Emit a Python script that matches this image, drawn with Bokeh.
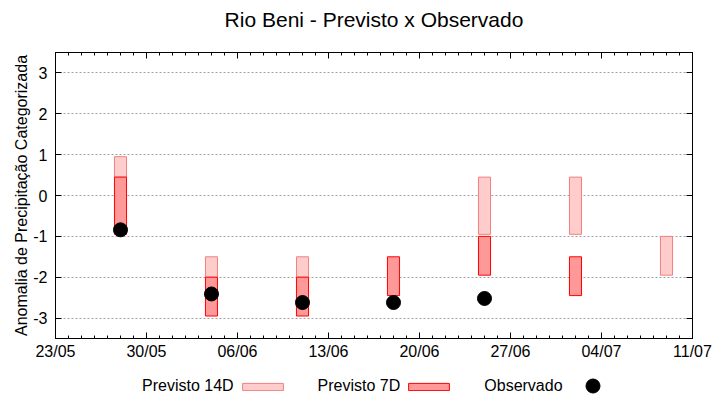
import pandas as pd
from bokeh.plotting import figure
from bokeh.layouts import column
from bokeh.models import (DatetimeAxis, LinearAxis, FixedTicker, DatetimeTickFormatter,
                          Legend, LegendItem, Range1d, CustomJSTickFormatter, Label)
from bokeh.embed import file_html
from bokeh.resources import INLINE

# ---- data ----
dates = ["2024-05-28", "2024-06-04", "2024-06-11", "2024-06-18",
         "2024-06-25", "2024-07-02", "2024-07-09"]
p14_bottom = [0.45, -2.0, -2.0, float("nan"), -0.95, -0.95, -1.95]
p14_top = [0.95, -1.5, -1.5, float("nan"), 0.45, 0.45, -1.0]
p7_bottom = [-0.95, -2.95, -2.95, -2.45, -1.95, -2.45, float("nan")]
p7_top = [0.45, -2.0, -2.0, -1.5, -1.0, -1.5, float("nan")]
obs = [-0.84, -2.41, -2.62, -2.62, -2.52, float("nan"), float("nan")]
x_ticks = ["2024-05-23", "2024-05-30", "2024-06-06", "2024-06-13",
           "2024-06-20", "2024-06-27", "2024-07-04", "2024-07-11"]
y_ticks = [-3, -2, -1, 0, 1, 2, 3]
legend_labels = ["Previsto 14D", "Previsto 7D", "Observado"]
title_text = "Rio Beni - Previsto x Observado"

FONT = "Liberation Sans"
DAY = 86400000.0

x = pd.to_datetime(dates)
tick_ms = [pd.Timestamp(t).value / 1e6 for t in x_ticks]
minor_ms = [tick_ms[0] + i * DAY for i in range(int((tick_ms[-1] - tick_ms[0]) / DAY) + 1)]

# ---- title strip ----
tf = figure(width=720, height=38, output_backend="svg", toolbar_location=None,
            x_range=Range1d(0, 1), y_range=Range1d(0, 1),
            x_axis_location=None, y_axis_location=None,
            min_border=0, outline_line_color=None)
tf.grid.visible = False
tf.add_layout(Label(x=0.5, y=0.5, text=title_text, text_align="center",
                    text_baseline="middle", text_font=FONT, text_font_size="21px",
                    text_color="black"))

# ---- main chart ----
p = figure(frame_width=637, frame_height=286, x_axis_type="datetime",
           output_backend="svg", toolbar_location=None, title=None,
           x_range=Range1d(tick_ms[0], tick_ms[-1]), y_range=Range1d(-3.5, 3.5),
           min_border_left=55, min_border_right=28, min_border_top=14, min_border_bottom=34)
p.background_fill_color = "white"
p.border_fill_color = "white"
p.outline_line_color = "black"
p.outline_line_width = 1

bw = 0.93 * DAY
p.vbar(x=x, width=bw, bottom=p14_bottom, top=p14_top,
       fill_color="#ffcccc", line_color="#f08080", line_width=1)
p.vbar(x=x, width=bw, bottom=p7_bottom, top=p7_top,
       fill_color="#ff9999", line_color="#ff0000", line_width=1)
p.scatter(x=x, y=obs, size=14, fill_color="black", line_color="black")

# grid
p.xgrid.grid_line_color = None
p.ygrid.ticker = FixedTicker(ticks=y_ticks)
p.ygrid.grid_line_color = "#a0a0a0"
p.ygrid.grid_line_dash = "2 2"
p.ygrid.grid_line_width = 1

xt = FixedTicker(ticks=tick_ms, minor_ticks=minor_ms)
fmt = DatetimeTickFormatter(days="%d/%m", months="%d/%m", hours="%d/%m",
                            years="%d/%m", minutes="%d/%m")
blank_fmt = CustomJSTickFormatter(code="return ''")

def style_axis(ax, labels=True):
    ax.major_tick_in = 6
    ax.major_tick_out = 0
    ax.minor_tick_in = 3
    ax.minor_tick_out = 0
    ax.axis_line_color = "black"
    ax.major_tick_line_color = "black"
    ax.minor_tick_line_color = "black"
    ax.major_label_text_font = FONT
    ax.major_label_text_color = "black"
    ax.major_label_text_font_size = "16px"
    if not labels:
        ax.formatter = blank_fmt
        ax.major_label_standoff = 0
        ax.major_label_text_font_size = "2px"

xa = p.xaxis[0]
xa.ticker = xt
xa.formatter = fmt
style_axis(xa)
xa.major_label_standoff = 4

ya = p.yaxis[0]
ya.ticker = FixedTicker(ticks=y_ticks)
ya.formatter = CustomJSTickFormatter(code="return tick.toFixed(0)")
style_axis(ya)
ya.minor_tick_line_color = None
ya.major_label_standoff = 8
ya.axis_label = "Anomalia de Precipitação Categorizada"
ya.axis_label_text_font = FONT
ya.axis_label_text_font_size = "16px"
ya.axis_label_text_font_style = "normal"
ya.axis_label_text_color = "black"
ya.axis_label_standoff = 0

top_ax = DatetimeAxis(ticker=xt)
style_axis(top_ax, labels=False)
p.add_layout(top_ax, "above")
right_ax = LinearAxis(ticker=FixedTicker(ticks=y_ticks))
style_axis(right_ax, labels=False)
right_ax.minor_tick_line_color = None
p.add_layout(right_ax, "right")

# ---- legend strip below the chart (gnuplot style: text followed by sample) ----
lf = figure(width=720, height=28, output_backend="svg", toolbar_location=None,
            x_range=Range1d(0, 1), y_range=Range1d(0, 1),
            x_axis_location=None, y_axis_location=None,
            min_border=0, outline_line_color=None)
lf.grid.visible = False
# hidden proxy renderers (one point each, not shown) used only for legend samples
blank = lf.vbar(x=[x[0]], width=bw, top=[p14_top[0]], bottom=[p14_bottom[0]],
                fill_alpha=0, line_alpha=0, visible=False)
s14 = lf.vbar(x=[x[0]], width=bw, top=[p14_top[0]], bottom=[p14_bottom[0]],
              fill_color="#ffcccc", line_color="#f08080", visible=False)
s7 = lf.vbar(x=[x[0]], width=bw, top=[p7_top[0]], bottom=[p7_bottom[0]],
             fill_color="#ff9999", line_color="#ff0000", visible=False)
sob = lf.scatter(x=[x[0]], y=[obs[0]], size=14, fill_color="black", line_color="black",
                 visible=False)
common = dict(orientation="horizontal", padding=0, margin=0, border_line_color=None,
              background_fill_alpha=0, label_text_font=FONT, label_text_font_size="16px",
              label_text_color="black")
legend = Legend(items=[
    LegendItem(label=legend_labels[0], renderers=[blank]),
    LegendItem(label=legend_labels[1], renderers=[s14]),
    LegendItem(label=legend_labels[2], renderers=[s7]),
], location=(6, 4), glyph_width=51, glyph_height=9, label_standoff=30, spacing=3,
   label_height=20, **common)
lf.add_layout(legend, "center")
legend_dot = Legend(items=[LegendItem(label="", renderers=[sob])],
                    location=(520, -3), glyph_width=35, glyph_height=35,
                    label_standoff=0, label_width=0, label_height=0, **common)
lf.add_layout(legend_dot, "center")

layout = column(tf, p, lf, spacing=0)
open("out.html", "w").write(file_html(layout, INLINE))
